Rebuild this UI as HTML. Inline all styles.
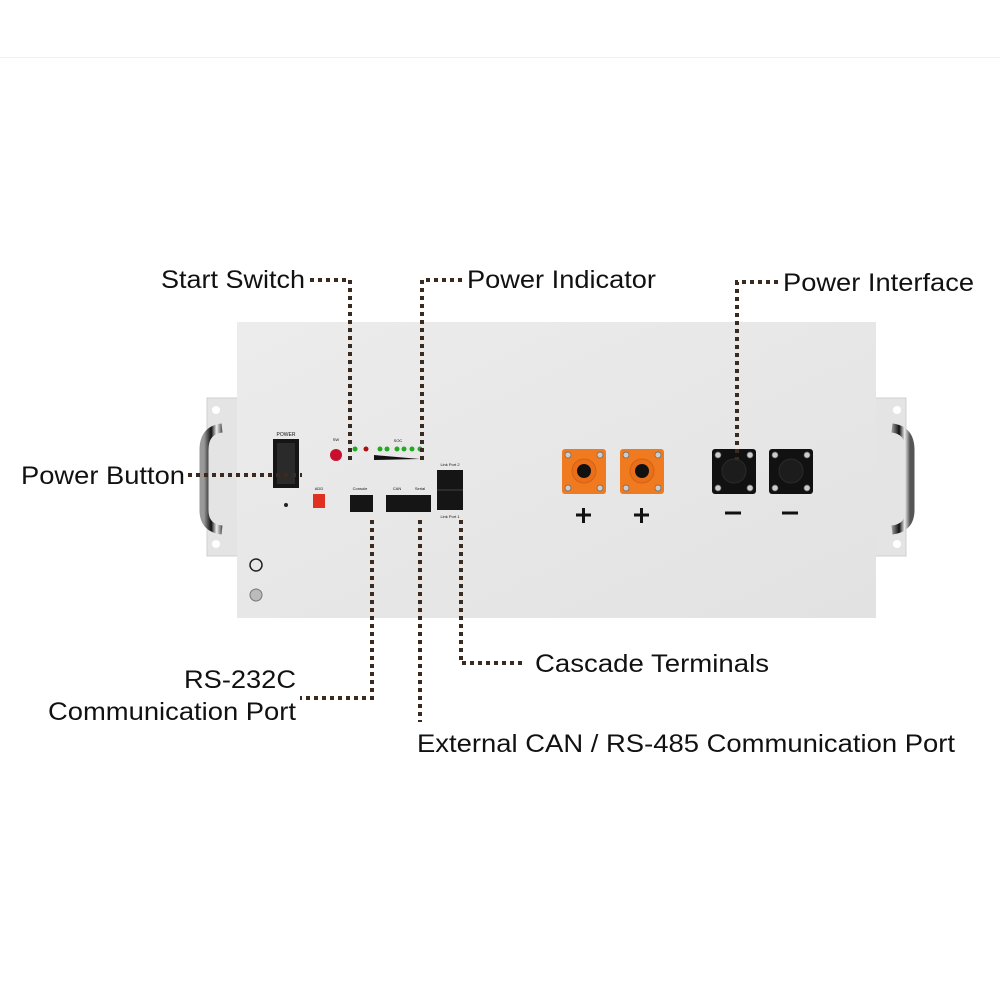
<!DOCTYPE html>
<html><head><style>
html,body{margin:0;padding:0;background:#fff;}
svg{display:block;}
text{font-family:"Liberation Sans",sans-serif;fill:#111;}
</style></head><body>
<svg width="1000" height="1000" viewBox="0 0 1000 1000">
<defs>
<linearGradient id="pan" x1="0" y1="0" x2="1" y2="1">
<stop offset="0" stop-color="#ececec"/><stop offset="1" stop-color="#e2e2e2"/></linearGradient>
<linearGradient id="chrome" x1="0" y1="0" x2="1" y2="0">
<stop offset="0" stop-color="#999"/><stop offset="0.4" stop-color="#111"/><stop offset="0.7" stop-color="#eee"/><stop offset="1" stop-color="#555"/></linearGradient>
</defs>
<line x1="0" y1="57.5" x2="1000" y2="57.5" stroke="#f0f0f0"/>
<!-- brackets -->
<rect x="207" y="398" width="32" height="158" fill="#e4e4e4" stroke="#cfcfcf"/>
<rect x="874" y="398" width="32" height="158" fill="#e4e4e4" stroke="#cfcfcf"/>
<circle cx="216" cy="410" r="4" fill="#fff"/><circle cx="216" cy="544" r="4" fill="#fff"/>
<circle cx="897" cy="410" r="4" fill="#fff"/><circle cx="897" cy="544" r="4" fill="#fff"/>
<path d="M222 428 Q204 430 204 450 L204 510 Q204 528 222 530" fill="none" stroke="url(#chrome)" stroke-width="9"/>
<path d="M892 428 Q910 430 910 450 L910 510 Q910 528 892 530" fill="none" stroke="url(#chrome)" stroke-width="9"/>
<!-- panel -->
<rect x="237" y="322" width="639" height="296" fill="url(#pan)"/>
<!-- power switch -->
<text x="286" y="436" font-size="5" text-anchor="middle">POWER</text>
<rect x="273" y="439" width="26" height="49" fill="#151515"/>
<rect x="277" y="443" width="18" height="41" fill="#2a2a2a"/>
<circle cx="286" cy="505" r="2" fill="#222"/>
<rect x="313" y="494" width="12" height="14" fill="#e03020"/>
<text x="319" y="490" font-size="4" text-anchor="middle">ADD</text>
<circle cx="336" cy="455" r="6" fill="#c8102e"/>
<text x="336" y="441" font-size="4" text-anchor="middle">SW</text>
<circle cx="355" cy="449" r="2.5" fill="#2a2"/><circle cx="366" cy="449" r="2.5" fill="#a11"/>
<circle cx="380" cy="449" r="2.5" fill="#2a2"/><circle cx="387" cy="449" r="2.5" fill="#2a2"/><circle cx="397" cy="449" r="2.5" fill="#2a2"/><circle cx="404" cy="449" r="2.5" fill="#2a2"/><circle cx="412" cy="449" r="2.5" fill="#2a2"/><circle cx="420" cy="449" r="2.5" fill="#2a2"/>
<path d="M374 455 L420 459 L374 460 Z" fill="#111"/>
<text x="398" y="442" font-size="4" text-anchor="middle">SOC</text>
<rect x="350" y="495" width="23" height="17" fill="#151515"/>
<rect x="386" y="495" width="45" height="17" fill="#151515"/>
<rect x="437" y="470" width="26" height="40" fill="#151515"/>
<line x1="437" y1="490" x2="463" y2="490" stroke="#444"/>
<text x="360" y="490" font-size="4" text-anchor="middle">Console</text>
<text x="397" y="490" font-size="4" text-anchor="middle">CAN</text>
<text x="420" y="490" font-size="4" text-anchor="middle">Serial</text>
<text x="450" y="466" font-size="4" text-anchor="middle">Link Port 2</text>
<text x="450" y="518" font-size="4" text-anchor="middle">Link Port 1</text>
<circle cx="256" cy="565" r="6" fill="none" stroke="#222" stroke-width="1.5"/>
<circle cx="256" cy="595" r="6" fill="#bbb" stroke="#777"/>
<!-- connectors -->
<g>
<rect x="562" y="449" width="44" height="45" rx="3" fill="#f07a20"/>
<circle cx="584" cy="471" r="12" fill="#e8701a" stroke="#d86010"/><circle cx="584" cy="471" r="7" fill="#111"/>
<rect x="620" y="449" width="44" height="45" rx="3" fill="#f07a20"/>
<circle cx="642" cy="471" r="12" fill="#e8701a" stroke="#d86010"/><circle cx="642" cy="471" r="7" fill="#111"/>
<rect x="712" y="449" width="44" height="45" rx="3" fill="#111"/>
<circle cx="734" cy="471" r="12" fill="#1c1c1c" stroke="#2a2a2a"/>
<rect x="769" y="449" width="44" height="45" rx="3" fill="#111"/>
<circle cx="791" cy="471" r="12" fill="#1c1c1c" stroke="#2a2a2a"/>
<g fill="#ccc" stroke="#666" stroke-width="0.7">
<circle cx="568" cy="455" r="3"/><circle cx="600" cy="455" r="3"/><circle cx="568" cy="488" r="3"/><circle cx="600" cy="488" r="3"/>
<circle cx="626" cy="455" r="3"/><circle cx="658" cy="455" r="3"/><circle cx="626" cy="488" r="3"/><circle cx="658" cy="488" r="3"/>
<circle cx="718" cy="455" r="3"/><circle cx="750" cy="455" r="3"/><circle cx="718" cy="488" r="3"/><circle cx="750" cy="488" r="3"/>
<circle cx="775" cy="455" r="3"/><circle cx="807" cy="455" r="3"/><circle cx="775" cy="488" r="3"/><circle cx="807" cy="488" r="3"/>
</g>
<path d="M576 515 h15 M583.5 508 v15 M634 515 h15 M641.5 508 v15 M725 513 h16 M782 513 h16" stroke="#111" stroke-width="3"/>
</g>
<!-- leaders -->
<g fill="none" stroke="#3a2a20" stroke-width="4" stroke-dasharray="4 4">
<path d="M310 280 H350 V460"/>
<path d="M462 280 H422 V460"/>
<path d="M778 282 H737 V460"/>
<path d="M188 475 H302"/>
<path d="M372 520 V698 H300"/>
<path d="M420 520 V722"/>
<path d="M461 520 V663 H525"/>
</g>
<!-- labels -->
<g font-size="25">
<text x="161" y="288" textLength="144" lengthAdjust="spacingAndGlyphs">Start Switch</text>
<text x="467" y="288" textLength="189" lengthAdjust="spacingAndGlyphs">Power Indicator</text>
<text x="783" y="291" textLength="191" lengthAdjust="spacingAndGlyphs">Power Interface</text>
<text x="21" y="484" textLength="164" lengthAdjust="spacingAndGlyphs">Power Button</text>
<text x="535" y="672" textLength="234" lengthAdjust="spacingAndGlyphs">Cascade Terminals</text>
<text x="184" y="688" textLength="112" lengthAdjust="spacingAndGlyphs">RS-232C</text>
<text x="48" y="720" textLength="248" lengthAdjust="spacingAndGlyphs">Communication Port</text>
<text x="417" y="752" textLength="538" lengthAdjust="spacingAndGlyphs">External CAN / RS-485 Communication Port</text>
</g>
</svg>
</body></html>
